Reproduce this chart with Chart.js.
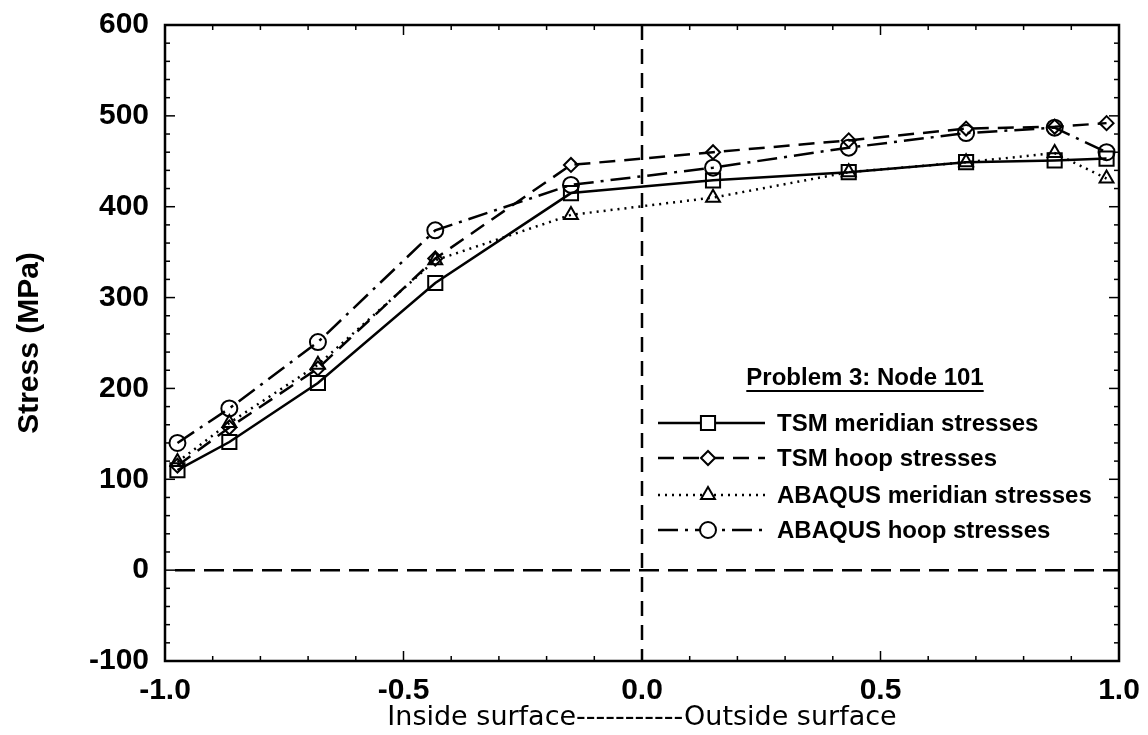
<!DOCTYPE html>
<html>
<head>
<meta charset="utf-8">
<script src="https://cdn.jsdelivr.net/npm/chart.js@4"></script>
<style>
  html, body { margin: 0; padding: 0; background: #fff; }
  #wrap { width: 1148px; height: 735px; }
</style>
</head>
<body>
<div id="wrap"><canvas id="c" width="1148" height="735"></canvas></div>
<script>
// ---- data ----
const xPositions = [-0.9739, -0.8651, -0.6794, -0.4334, -0.1489, 0.1489, 0.4334, 0.6794, 0.8651, 0.9739];
const tsmMeridian = [110, 141, 206, 316, 415, 429, 438, 449, 451, 453];
const tsmHoop = [115, 157, 222, 343, 446, 460, 473, 486, 488, 492];
const abaqusMeridian = [119, 162, 226, 341, 391, 410, 438, 449, 459, 431];
const abaqusHoop = [140, 178, 251, 374, 424, 443, 465, 481, 487, 460];
const seriesNames = ['TSM meridian stresses', 'TSM hoop stresses', 'ABAQUS meridian stresses', 'ABAQUS hoop stresses'];
const legendTitle = 'Problem 3: Node 101';
const xAxisTitle = 'Inside surface-----------Outside surface';
const yAxisTitle = 'Stress (MPa)';
const xRange = [-1, 1];
const yRange = [-100, 600];

const toPts = arr => arr.map((v, i) => ({x: xPositions[i], y: v}));

const styles = [
  {dash: [], point: 'rect', r: 10},
  {dash: [16, 9], point: 'rectRot', r: 7},
  {dash: [2, 5], point: 'triangle', r: 8},
  {dash: [20, 7, 3, 7], point: 'circle', r: 8}
];
const seriesData = [tsmMeridian, tsmHoop, abaqusMeridian, abaqusHoop];

const datasets = seriesData.map((arr, i) => ({
  label: seriesNames[i],
  data: toPts(arr),
  showLine: true,
  borderColor: '#000',
  borderWidth: 2.5,
  borderDash: styles[i].dash,
  pointStyle: styles[i].point,
  pointRadius: styles[i].r,
  pointBorderWidth: 2,
  pointBorderColor: '#000',
  pointBackgroundColor: 'rgba(255,255,255,0)',
  tension: 0
}));

// plugin: frame, inward ticks, zero lines, legend
const decor = {
  id: 'decor',
  beforeDatasetsDraw(chart) {
    const {ctx, chartArea: a, scales: {x, y}} = chart;
    ctx.save();
    ctx.strokeStyle = '#000';
    ctx.lineWidth = 2.5;
    ctx.setLineDash([20, 9]);
    const y0 = y.getPixelForValue(0);
    ctx.beginPath(); ctx.moveTo(a.left + 10, y0); ctx.lineTo(a.right, y0); ctx.stroke();
    ctx.setLineDash([15, 9]);
    const x0 = x.getPixelForValue(0);
    ctx.beginPath(); ctx.moveTo(x0, a.top); ctx.lineTo(x0, a.bottom); ctx.stroke();
    ctx.restore();
  },
  afterDraw(chart) {
    const {ctx, chartArea: a, scales: {x, y}} = chart;
    ctx.save();
    ctx.strokeStyle = '#000';
    ctx.setLineDash([]);
    ctx.lineWidth = 2.5;
    ctx.strokeRect(a.left, a.top, a.right - a.left, a.bottom - a.top);
    ctx.lineWidth = 1.5;
    for (let v = yRange[0]; v <= yRange[1]; v += 20) {
      const py = y.getPixelForValue(v);
      const len = (v % 100 === 0) ? 10 : 5;
      ctx.beginPath(); ctx.moveTo(a.left, py); ctx.lineTo(a.left + len, py); ctx.stroke();
      ctx.beginPath(); ctx.moveTo(a.right, py); ctx.lineTo(a.right - len, py); ctx.stroke();
    }
    for (let k = -10; k <= 10; k++) {
      const v = k / 10;
      const px = x.getPixelForValue(v);
      const len = (k % 5 === 0) ? 10 : 5;
      ctx.beginPath(); ctx.moveTo(px, a.bottom); ctx.lineTo(px, a.bottom - len); ctx.stroke();
      ctx.beginPath(); ctx.moveTo(px, a.top); ctx.lineTo(px, a.top + len); ctx.stroke();
    }
    // legend
    ctx.fillStyle = '#000';
    ctx.font = 'bold 24px "Liberation Sans", Arial, sans-serif';
    ctx.textAlign = 'center';
    ctx.textBaseline = 'middle';
    const tx = 865, ty = 378;
    ctx.fillText(legendTitle, tx, ty);
    const tw = ctx.measureText(legendTitle).width;
    ctx.lineWidth = 2;
    ctx.beginPath(); ctx.moveTo(tx - tw / 2, ty + 13); ctx.lineTo(tx + tw / 2, ty + 13); ctx.stroke();
    const rows = [423, 458, 495, 530];
    ctx.textAlign = 'left';
    chart.data.datasets.forEach((ds, i) => {
      const ry = rows[i];
      ctx.lineWidth = 2.5;
      ctx.setLineDash(ds.borderDash);
      ctx.beginPath(); ctx.moveTo(658, ry); ctx.lineTo(765, ry); ctx.stroke();
      ctx.setLineDash([]);
      ctx.lineWidth = 2;
      ctx.fillStyle = '#fff';
      Chart.helpers.drawPoint(ctx, {pointStyle: ds.pointStyle, radius: ds.pointRadius, borderWidth: 2, rotation: 0}, 708, ry);
      ctx.fillStyle = '#000';
      ctx.fillText(ds.label, 777, ry + 1);
    });
    ctx.restore();
  }
};

new Chart(document.getElementById('c'), {
  type: 'scatter',
  data: {datasets},
  plugins: [decor],
  options: {
    responsive: false,
    animation: false,
    layout: {padding: {top: 25, right: 29, left: 0, bottom: 0}},
    plugins: {legend: {display: false}, tooltip: {enabled: false}},
    scales: {
      x: {
        type: 'linear', min: xRange[0], max: xRange[1],
        ticks: {stepSize: 0.5, color: '#000', padding: 12, maxRotation: 0,
          font: {family: '"Liberation Sans", Arial, sans-serif', size: 30, weight: 'bold'},
          callback: v => (Math.abs(v) < 1e-9 ? 0 : v).toFixed(1)},
        grid: {display: false, drawTicks: false},
        border: {display: false},
        title: {display: true, text: xAxisTitle, color: '#000', padding: {top: 0, bottom: 1},
          font: {family: '"DejaVu Sans", sans-serif', size: 27, weight: 'normal'}},
        afterFit: s => { s.height = 74; s.paddingLeft = 0; s.paddingRight = 0; }
      },
      y: {
        type: 'linear', min: yRange[0], max: yRange[1],
        ticks: {stepSize: 100, color: '#000', padding: 16,
          font: {family: '"Liberation Sans", Arial, sans-serif', size: 30, weight: 'bold'}},
        grid: {display: false, drawTicks: false},
        border: {display: false},
        title: {display: true, text: yAxisTitle, color: '#000', padding: {top: 12, bottom: 0},
          font: {family: '"Liberation Sans", Arial, sans-serif', size: 30, weight: 'bold'}},
        afterFit: s => { s.width = 165; s.paddingTop = 0; s.paddingBottom = 0; }
      }
    }
  }
});
</script>
</body>
</html>
